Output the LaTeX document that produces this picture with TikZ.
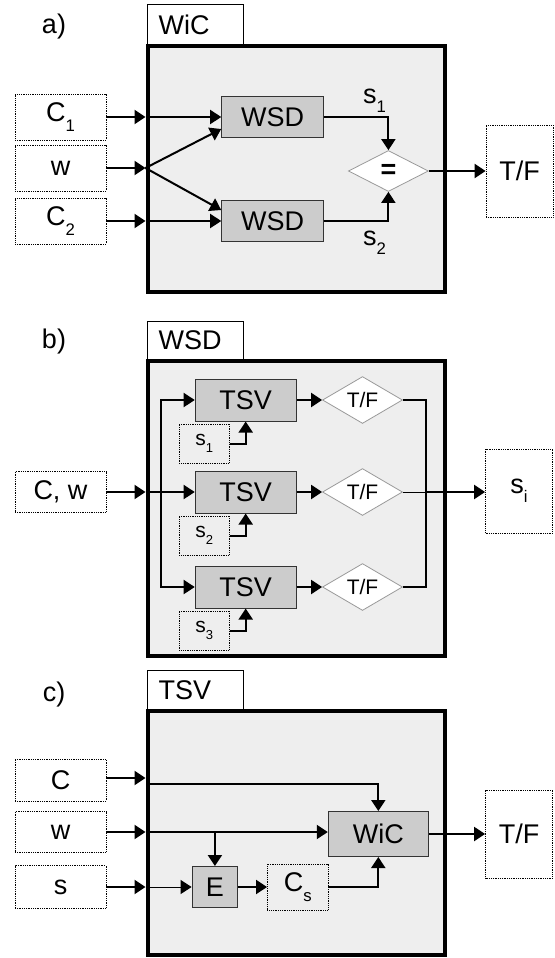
\documentclass[tikz,border=0pt]{standalone}
\usepackage{fontspec}
\setmainfont{Liberation Sans}
\usetikzlibrary{shapes.geometric,arrows.meta}

\definecolor{framefill}{HTML}{EEEEEE}
\definecolor{blockfill}{HTML}{CCCCCC}
\definecolor{blockline}{HTML}{333333}
\definecolor{cmpline}{HTML}{999999}

\newcommand{\lowsub}[1]{\raisebox{-0.35em}{\scalebox{0.62}{#1}}}

\tikzset{
  big/.style={font=\fontsize{27}{31}\selectfont},
  small/.style={font=\fontsize{21}{25}\selectfont},
  inbox/.style={draw, densely dotted, line width=0.8pt, inner sep=0pt},
  block/.style={draw=blockline, fill=blockfill, line width=1pt, inner sep=0pt},
  frame/.style={draw, fill=framefill, line width=4pt, inner sep=0pt},
  tab/.style={draw, line width=1pt, inner xsep=11pt, inner ysep=0pt, minimum width=95.5pt, text width=73.5pt, align=left},
  cmp/.style={diamond, draw=cmpline, fill=white, line width=0.8pt, inner sep=0pt, minimum width=80pt, minimum height=41pt},
  conn/.style={line width=2pt, -{Triangle[length=11pt,width=14pt]}},
  thinconn/.style={line width=1pt, -{Triangle[length=11pt,width=14pt]}},
  wire/.style={line width=2pt},
}

\begin{document}
\begin{tikzpicture}[x=1pt,y=-1pt,big]
	\useasboundingbox (0,0) rectangle (554,958);

	% a) WiC
	\node (laba) at (54,27) {a)};
	\node[tab, minimum height=40pt] (taba) at (195.3,24.5) {WiC};
	\node[frame, minimum width=297pt, minimum height=245pt] (fra) at (296,169) {};
	\node[inbox, minimum width=91pt, minimum height=46pt] (c1) at (60.5,117) {C\lowsub{1}};
	\node[inbox, minimum width=91pt, minimum height=46pt] (w) at (60.5,168) {w};
	\node[inbox, minimum width=91pt, minimum height=46pt] (c2) at (60.5,221) {C\lowsub{2}};
	\node[block, minimum width=102pt, minimum height=41pt] (wsd1) at (272.7,117) {WSD};
	\node[block, minimum width=102pt, minimum height=41pt] (wsd2) at (272.7,221) {WSD};
	\node[cmp] (eq) at (388.4,171) {\textbf{=}};
	\node (lab1) at (374.6,101) {s\lowsub{1}};
	\node (lab2) at (374.6,243) {s\lowsub{2}};
	\node[inbox, minimum width=67pt, minimum height=92pt] (tfa) at (519.5,171) {T/F};

	\draw[conn] (c1.east) -- (c1.east -| fra.west);
	\draw[conn] (c1.east -| fra.west) -- (wsd1.west);
	\draw[conn] (w.east) -- (w.east -| fra.west);
	\draw[conn] (w.east -| fra.west) -- ([yshift=9pt]wsd1.south west);
	\draw[conn] (w.east -| fra.west) -- ([yshift=-10pt]wsd2.north west);
	\draw[conn] (c2.east) -- (c2.east -| fra.west);
	\draw[conn] (c2.east -| fra.west) -- (wsd2.west);
	\draw[conn] (wsd1.east) -| (eq.north);
	\draw[conn] (wsd2.east) -| (eq.south);
	\draw[conn] (eq.east) -- (tfa.west);

	% b) WSD
	\node (labb) at (54,342) {b)};
	\node[tab, minimum height=39pt] (tabb) at (195.3,340.5) {WSD};
	\node[frame, minimum width=297pt, minimum height=295pt] (frb) at (296,508.5) {};
	\node[inbox, minimum width=91pt, minimum height=41pt] (cw) at (60.5,492) {C, w};
	\foreach \i/\y in {1/400, 2/492, 3/587}{
		\node[block, minimum width=101pt, minimum height=42pt] (tsv\i) at (245.7,\y) {TSV};
		\node[inbox, small, minimum width=50pt, minimum height=39pt] (s\i) at (204.3,\y+43.5) {s\lowsub{\i}};
		\node[cmp, small] (tf\i) at (362.5,\y) {T/F};
	}
	\node[inbox, minimum width=67pt, minimum height=84pt] (si) at (519,491) {s\lowsub{i}};
	\coordinate (bus) at (161.3,492);
	\coordinate (col) at (426,492);

	\draw[conn] (cw.east) -- (cw.east -| frb.west);
	\draw[conn] (cw.east -| frb.west) -- (tsv2.west);
	\draw[conn] (bus |- tsv3.west) -- (bus |- tsv1.west) -- (tsv1.west);
	\draw[conn] (bus |- tsv1.west) -- (bus |- tsv3.west) -- (tsv3.west);
	\foreach \i in {1, 2, 3}{
		\draw[conn] (tsv\i.east) -- (tf\i.west);
		\draw[conn] (s\i.east) -| (tsv\i.south);
	}
	\draw[wire] (tf1.east) -- (col |- tf1.east) -- (col |- tf3.east) -- (tf3.east);
	\draw[line width=1pt] (tf2.east) -- (col);
	\draw[conn] (col) -- (col -| si.west);

	% c) TSV
	\node (labc) at (54,695) {c)};
	\node[tab, minimum height=40pt] (tabc) at (195.3,690) {TSV};
	\node[frame, minimum width=297pt, minimum height=244pt] (frc) at (296,833) {};
	\node[inbox, minimum width=91pt, minimum height=42pt] (cin) at (60.5,780) {C};
	\node[inbox, minimum width=91pt, minimum height=41pt] (win) at (60.5,832) {w};
	\node[inbox, minimum width=91pt, minimum height=43pt] (sin) at (60.5,887) {s};
	\node[block, minimum width=100pt, minimum height=45pt] (wic) at (378.3,834) {WiC};
	\node[block, minimum width=45.6pt, minimum height=41pt] (e) at (214.9,887) {E};
	\node[inbox, minimum width=60.5pt, minimum height=46pt] (cs) at (297.7,887) {C\lowsub{s}};
	\node[inbox, minimum width=67pt, minimum height=88pt] (tfc) at (519,834) {T/F};
	\coordinate (cpath) at (147.5,784);

	\draw[conn] ([yshift=2pt]cin.east) -- ([yshift=2pt]cin.east -| frc.west);
	\draw[conn] (cpath) -| (wic.north);
	\draw[conn] (win.east) -- (win.east -| frc.west);
	\draw[conn] (win.east -| frc.west) -- (win.east -| wic.west);
	\draw[conn] (e.north |- win.east) -- (e.north);
	\draw[conn] (sin.east) -- (sin.east -| frc.west);
	\draw[thinconn] (sin.east -| frc.west) -- (e.west);
	\draw[conn] (e.east) -- (cs.west);
	\draw[conn] (cs.east) -| (wic.south);
	\draw[conn] (wic.east) -- (tfc.west);
\end{tikzpicture}
\end{document}
